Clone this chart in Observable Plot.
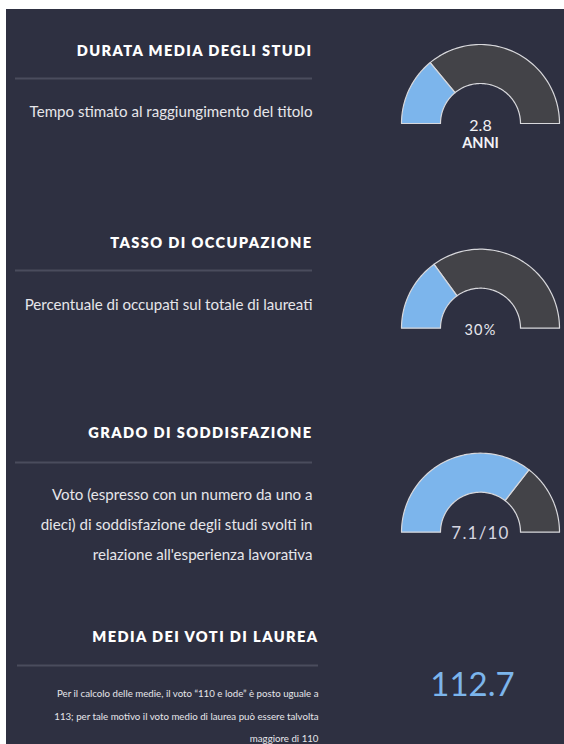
<!DOCTYPE html>
<html>
<head>
<meta charset="utf-8">
<script src="https://cdn.jsdelivr.net/npm/d3@7"></script>
<script src="https://cdn.jsdelivr.net/npm/@observablehq/plot@0.6"></script>
<style>
  html, body { margin: 0; padding: 0; background: #ffffff; }
  #chart { padding: 9px 0 0 6px; }
  #chart svg { display: block; background: #2e3041; }
</style>
</head>
<body>
<div id="chart"></div>
<script>
// ---------- data ----------
const titles = [
  "DURATA MEDIA DEGLI STUDI",
  "TASSO DI OCCUPAZIONE",
  "GRADO DI SODDISFAZIONE",
  "MEDIA DEI VOTI DI LAUREA"
];
const descriptions = [
  "Tempo stimato al raggiungimento del titolo",
  "Percentuale di occupati sul totale di laureati",
  "Voto (espresso con un numero da uno a\ndieci) di soddisfazione degli studi svolti in\nrelazione all'esperienza lavorativa",
  "Per il calcolo delle medie, il voto “110 e lode” è posto uguale a\n113; per tale motivo il voto medio di laurea può essere talvolta\nmaggiore di 110"
];
const gaugeValues = [2.8, 30, 7.1];
const gaugeMax = [10, 100, 10];
const gaugeLabels = ["2.8", "30%", "7.1/10"];
const gaugeUnits = ["ANNI", "", ""];
const mediaVoto = [112.7];

// ---------- layout (page pixels) ----------
const PAGE_W = 564, PAGE_H = 744, OFF_X = 6, OFF_Y = 9;
const titleY = [51, 243, 433, 637];
const ruleYs = [78, 270, 462, 665];
const textRight = [312, 312, 312, 318];
const ruleLeft = [15, 15, 15, 17];
const descY = [107, 300, 520, 712];
const gaugeCX = 480, gaugeCY = [123, 327.7, 531.7];
const rOuter = 79, rInner = 40;

// ---------- derived tables ----------
const sections = titles.map((t, i) => ({
  title: t, desc: descriptions[i],
  ty: titleY[i], ry: ruleYs[i], x2: textRight[i], x1: ruleLeft[i], dy: descY[i]
}));

function sector(gi, part, a0, a1) {
  const n = 64, pts = [];
  for (let k = 0; k <= n; k++) {
    const a = a0 + (a1 - a0) * k / n;
    pts.push({g: gi, part, x: gaugeCX + rOuter * Math.cos(a), y: gaugeCY[gi] - rOuter * Math.sin(a)});
  }
  for (let k = n; k >= 0; k--) {
    const a = a0 + (a1 - a0) * k / n;
    pts.push({g: gi, part, x: gaugeCX + rInner * Math.cos(a), y: gaugeCY[gi] - rInner * Math.sin(a)});
  }
  return pts;
}
const blueRows = [], greyRows = [];
gaugeValues.forEach((v, i) => {
  const f = v / gaugeMax[i];
  const split = Math.PI * (1 - f);
  blueRows.push(...sector(i, "value", Math.PI, split));
  greyRows.push(...sector(i, "rest", split, 0));
});
const gaugeText = gaugeLabels.map((l, i) => ({label: l, unit: gaugeUnits[i], x: gaugeCX, y: gaugeCY[i]}));

const bodyFont = "Lato, 'Open Sans', sans-serif";

const plot = Plot.plot({
  width: PAGE_W - OFF_X,
  height: PAGE_H - OFF_Y,
  margin: 0,
  x: {domain: [OFF_X, PAGE_W], range: [0, PAGE_W - OFF_X], axis: null},
  y: {domain: [OFF_Y, PAGE_H], range: [0, PAGE_H - OFF_Y], axis: null},
  style: {fontFamily: bodyFont, background: "#2e3041"},
  marks: [
    Plot.ruleY(sections, {y: "ry", x1: "x1", x2: "x2", stroke: "#4a4c5d", strokeWidth: 2}),
    Plot.text(sections, {x: "x2", y: "ty", text: "title", textAnchor: "end", lineAnchor: "middle",
      fill: "#ffffff", fontSize: 14.6, fontWeight: 800, fontFamily: bodyFont}),
    Plot.text(sections.slice(0, 3), {x: "x2", y: "dy", text: "desc", textAnchor: "end", lineAnchor: "middle",
      fill: "#e6e6ea", fontSize: 15.1, lineHeight: 1.99, fontFamily: bodyFont}),
    Plot.text(sections.slice(3), {x: "x2", y: "dy", text: "desc", textAnchor: "end", lineAnchor: "middle",
      fill: "#e6e6ea", fontSize: 9.7, lineHeight: 2.33, fontFamily: bodyFont}),
    Plot.line(greyRows, {x: "x", y: "y", z: "g", fill: "#434348", stroke: "#d8d8dc", strokeWidth: 1.2, curve: "linear-closed"}),
    Plot.line(blueRows, {x: "x", y: "y", z: "g", fill: "#7cb5ec", stroke: "#d8d8dc", strokeWidth: 1.2, curve: "linear-closed"}),
    Plot.text(gaugeText.slice(0, 1), {x: "x", y: "y", text: "label", dy: 2, fill: "#f2f2f5", fontSize: 16, fontWeight: 400, lineAnchor: "middle"}),
    Plot.text(gaugeText.slice(0, 1), {x: "x", y: "y", text: "unit", dy: 20, fill: "#f2f2f5", fontSize: 14.5, fontWeight: 700, lineAnchor: "middle"}),
    Plot.text(gaugeText.slice(1, 2), {x: "x", y: "y", text: "label", dy: 2, fill: "#e8e8ee", fontSize: 14.5, fontWeight: 400, lineAnchor: "middle"}),
    Plot.text(gaugeText.slice(2, 3), {x: "x", y: "y", text: "label", dy: 1.5, fill: "#d6d6e0", fontSize: 17, fontWeight: 400, lineAnchor: "middle"}),
    Plot.text(mediaVoto, {x: () => 472, y: () => 685, text: d => d.toFixed(1), fill: "#7cb5ec", fontSize: 33, fontWeight: 400, lineAnchor: "middle"})
  ]
});

const svg = d3.select(plot);
svg.selectAll("text").filter(function() { return titles.includes(this.textContent); })
  .style("letter-spacing", "1.4px");
svg.selectAll("text").filter(function() { return this.textContent === "7.1/10" || this.textContent === "30%"; })
  .style("letter-spacing", "1.2px");
document.getElementById("chart").appendChild(plot);
</script>
</body>
</html>
